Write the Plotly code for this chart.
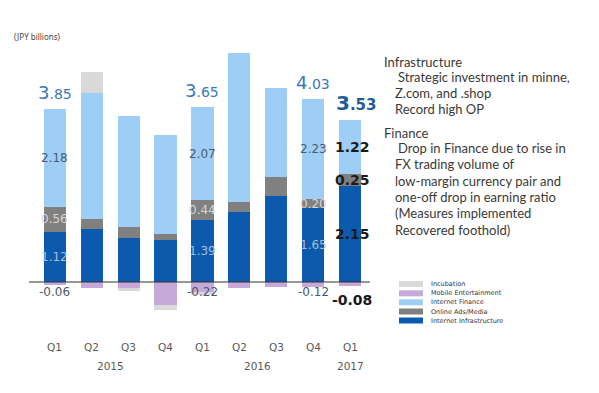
import plotly.graph_objects as go

quarters = ["Q1", "Q2", "Q3", "Q4", "Q1", "Q2", "Q3", "Q4", "Q1"]
years = ["2015", "2016", "2017"]
year_pos = [1.5, 5.5, 8]

infra = [1.12, 1.18, 0.98, 0.94, 1.39, 1.56, 1.92, 1.65, 2.15]
ads = [0.56, 0.22, 0.25, 0.13, 0.44, 0.22, 0.42, 0.20, 0.25]
finance = [2.18, 2.81, 2.48, 2.21, 2.07, 3.33, 1.99, 2.23, 1.22]
mobile = [-0.06, -0.13, -0.14, -0.51, -0.22, -0.13, -0.12, -0.12, -0.08]
incubation = [0.0, 0.47, -0.05, -0.11, -0.06, 0.0, 0.0, 0.0, 0.0]

total_idx = [0, 4, 7, 8]
total_text = ["3.85", "3.65", "4.03", "3.53"]

label_idx = [0, 4, 7]
bold_idx = 8

series_names = ["Incubation", "Mobile Entertainment", "Internet Finance",
                "Online Ads/Media", "Internet Infrastructure"]
colors = {"Internet Infrastructure": "#0b5aad", "Online Ads/Media": "#808080",
          "Internet Finance": "#9ecdf6", "Mobile Entertainment": "#c6a9d8",
          "Incubation": "#d9d9d9"}

notes = [
    ("Infrastructure", 0),
    ("Strategic investment in minne,", 1),
    ("Z.com, and .shop", 2),
    ("Record high OP", 2),
    ("Finance", 0),
    ("Drop in Finance due to rise in", 1),
    ("FX trading volume of", 2),
    ("low-margin currency pair and", 2),
    ("one-off drop in earning ratio", 2),
    ("(Measures implemented", 2),
    ("Recovered foothold)", 2),
]

OFF = 8  # page body margin
W, H = 599 - OFF, 393 - OFF
PLOT_L, PLOT_R, PLOT_T, PLOT_B = 29, 370, 30, 330  # page coords
L, T = PLOT_L - OFF, PLOT_T - OFF
R, B = W - (PLOT_R - OFF), H - (PLOT_B - OFF)
PW, PH = PLOT_R - PLOT_L, PLOT_B - PLOT_T


def px(xp):
    return (xp - PLOT_L) / PW


def py(yp):
    return (PLOT_B - yp) / PH


x = list(range(len(quarters)))
fig = go.Figure()
for name, vals in [("Internet Infrastructure", infra), ("Online Ads/Media", ads),
                   ("Internet Finance", finance), ("Mobile Entertainment", mobile),
                   ("Incubation", incubation)]:
    fig.add_trace(go.Bar(x=x, y=vals, name=name, width=0.6,
                         marker=dict(color=colors[name], line=dict(width=0)),
                         showlegend=False))

ann = []
num_font = "DejaVu Sans"
pos_tops = [max(a, 0) + max(b, 0) + max(c, 0) + max(d, 0) + max(e, 0)
            for a, b, c, d, e in zip(infra, ads, finance, mobile, incubation)]

seg_label_colors = ["#a9bcd6", "#d6d6d6", "#4a5a70"]

# segment labels
for i in label_idx + [bold_idx]:
    bold = i == bold_idx
    segs = [(0, infra[i]), (infra[i], infra[i] + ads[i]),
            (infra[i] + ads[i], infra[i] + ads[i] + finance[i])]
    for k, (lo, hi) in enumerate(segs):
        f = dict(family=num_font, size=14 if bold else 12,
                 color="#1a1a1a" if bold else seg_label_colors[k])
        txt = f"{hi - lo:.2f}"
        if bold:
            txt = "<b>" + txt + "</b>"
        ann.append(dict(x=i, y=(lo + hi) / 2, xref="x", yref="y", text=txt,
                        showarrow=False, font=f, xanchor="center", yanchor="middle",
                        xshift=2 if bold else 0))
    f = dict(family=num_font, size=14 if bold else 12,
             color="#1a1a1a" if bold else "#4a5a70")
    txt = f"{mobile[i]:.2f}"
    if bold:
        txt = "<b>" + txt + "</b>"
    ann.append(dict(x=i, y=0, xref="x", yref="y", text=txt, showarrow=False,
                    font=f, xanchor="center", yanchor="middle",
                    yshift=-18 if bold else -10, xshift=2 if bold else 0))

# totals
for i, t in zip(total_idx, total_text):
    whole, dec = t.split(".")
    bold = i == bold_idx
    col = "#1f5c9e" if bold else "#3a78b8"
    s = (f"<span style='font-size:{20 if bold else 18}px'>{whole}</span>"
         f"<span style='font-size:{15 if bold else 14}px'>.{dec}</span>")
    if bold:
        s = "<b>" + s + "</b>"
    ann.append(dict(x=i, y=pos_tops[i], xref="x", yref="y", text=s, showarrow=False,
                    font=dict(family=num_font, size=18, color=col),
                    xanchor="center", yanchor="middle", yshift=17,
                    xshift=6 if bold else 0))

# quarter and year labels
for i, q in enumerate(quarters):
    ann.append(dict(x=i, y=py(347), xref="x", yref="paper", text=q, showarrow=False,
                    font=dict(family=num_font, size=10.5, color="#595959"),
                    xanchor="center", yanchor="middle"))
for yv, yp in zip(years, year_pos):
    ann.append(dict(x=yp, y=py(366), xref="x", yref="paper", text=yv, showarrow=False,
                    font=dict(family=num_font, size=10.5, color="#595959"),
                    xanchor="center", yanchor="middle"))

ann.append(dict(x=px(12), y=py(37), xref="paper", yref="paper", text="(JPY billions)",
                showarrow=False, font=dict(family="Noto Sans", size=8, color="#444"),
                xanchor="left", yanchor="middle"))

# notes on the right
note_y = [62, 77, 93, 109, 133, 148, 164, 181, 197, 213, 230]
indent_x = [382, 396, 393]
for (txt, lvl), yp in zip(notes, note_y):
    ann.append(dict(x=px(indent_x[lvl]), y=py(yp), xref="paper", yref="paper",
                    text=txt, showarrow=False,
                    font=dict(family="Lato", size=13, color="#3a3a3a"),
                    xanchor="left", yanchor="middle"))

# custom legend
shapes = [dict(type="line", xref="paper", yref="y", x0=0, x1=1, y0=0, y1=0,
               line=dict(color="#333333", width=1))]
leg_y = [284, 293.3, 302.3, 311.5, 320.5]
for name, yp in zip(series_names, leg_y):
    shapes.append(dict(type="rect", xref="paper", yref="paper",
                       x0=px(399), x1=px(423), y0=py(yp + 3), y1=py(yp - 3),
                       fillcolor=colors[name], line=dict(width=0)))
    ann.append(dict(x=px(429), y=py(yp), xref="paper", yref="paper", text=name,
                    showarrow=False, font=dict(family="DejaVu Sans", size=6.5, color="#333"),
                    xanchor="left", yanchor="middle"))

zero_px = 282
upp = 44.8
fig.update_layout(
    width=W, height=H, margin=dict(l=L, r=R, t=T, b=B),
    barmode="relative", bargap=0,
    plot_bgcolor="white", paper_bgcolor="white",
    xaxis=dict(range=[-0.7, 8.54], showticklabels=False, showgrid=False,
               zeroline=False, showline=False, ticks=""),
    yaxis=dict(range=[-(PLOT_B - zero_px) / upp, (zero_px - PLOT_T) / upp],
               showticklabels=False, showgrid=False, zeroline=False,
               showline=False, ticks=""),
    annotations=ann, shapes=shapes,
)
fig.write_html("out.html")
